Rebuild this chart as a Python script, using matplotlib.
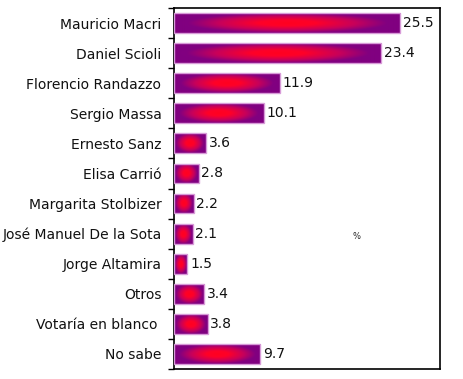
import numpy as np
import matplotlib.pyplot as plt
from matplotlib.colors import LinearSegmentedColormap

# Survey data
candidates = ["Mauricio Macri", "Daniel Scioli", "Florencio Randazzo", "Sergio Massa",
              "Ernesto Sanz", "Elisa Carrió", "Margarita Stolbizer", "José Manuel De la Sota",
              "Jorge Altamira", "Otros", "Votaría en blanco ", "No sabe"]
values = [25.5, 23.4, 11.9, 10.1, 3.6, 2.8, 2.2, 2.1, 1.5, 3.4, 3.8, 9.7]
value_labels = ["25.5", "23.4", "11.9", "10.1", "3.6", "2.8", "2.2", "2.1", "1.5", "3.4", "3.8", "9.7"]

fig = plt.figure(figsize=(4.64, 3.79), dpi=100)
ax = fig.add_axes([174 / 464, 1 - 369 / 379, 266 / 464, 361 / 379])

ypos = np.arange(len(candidates))
bars = ax.barh(ypos, values, height=0.66, facecolor="none", edgecolor="#d89ad8", linewidth=1.0, zorder=3)

# red-centre / purple-edge gradient for each bar
cmap = LinearSegmentedColormap.from_list(
    "rp", [(0.0, "#ff0020"), (0.25, "#ff0028"), (0.6, "#c8005a"), (0.88, "#820080"), (1.0, "#800080")])
gx = np.linspace(-1, 1, 200)
gy = np.linspace(-1, 1, 40)
X, Y = np.meshgrid(gx, gy)
grad = np.clip(np.sqrt(X ** 2 + 0.75 * Y ** 2), 0, 1)

for b in bars:
    x0, y0 = b.get_x(), b.get_y()
    w, h = b.get_width(), b.get_height()
    im = ax.imshow(grad, cmap=cmap, vmin=0, vmax=1, aspect="auto",
                   extent=[x0, x0 + w, y0 + h, y0], zorder=2, interpolation="bilinear")
    im.set_clip_path(b)

for y, v, lab in zip(ypos, values, value_labels):
    ax.text(v + 0.3, y, lab, va="center", ha="left", fontsize=10, color="#111111")

ax.text(20.6, 7.1, "%", fontsize=6, ha="center", va="center", color="#222222")

ax.set_xlim(0, 30)
ax.set_ylim(len(candidates) - 0.5, -0.5)
ax.set_yticks(ypos)
ax.set_yticklabels(candidates, fontsize=10, color="#111111")
ax.set_yticks(np.arange(len(candidates) + 1) - 0.5, minor=True)
ax.tick_params(axis="y", which="major", length=0, pad=9)
ax.tick_params(axis="y", which="minor", length=4, width=1)
ax.set_xticks([])
for s in ax.spines.values():
    s.set_linewidth(1.2)

plt.savefig("out.png", dpi=100)
